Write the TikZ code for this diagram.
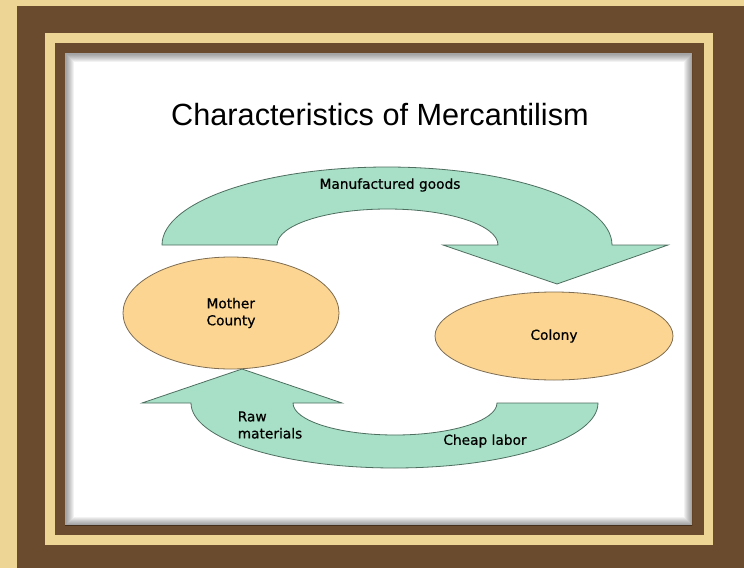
\documentclass[tikz,border=0pt]{standalone}
\usepackage{fontspec}
\setmainfont{Liberation Sans}
\newfontfamily\comicfont[FakeBold=0.6]{DejaVu Sans}
\usetikzlibrary{shapes.geometric}
\definecolor{framebrown}{HTML}{6B4B2E}
\definecolor{framegold}{HTML}{EDD596}
\definecolor{arrowgreen}{HTML}{A7E0C6}
\definecolor{arrowedge}{HTML}{4E6E60}
\definecolor{blobfill}{HTML}{FBD591}
\definecolor{blobedge}{HTML}{7D6C52}
\tikzset{
  country/.style={ellipse, draw=blobedge, line width=0.6pt, fill=blobfill,
    inner sep=0pt, align=left, font=\comicfont\fontsize{10.3}{12.75}\selectfont},
  flow/.style={draw=arrowedge, line width=0.6pt, fill=arrowgreen},
  caption/.style={font=\comicfont\fontsize{10.3}{12.75}\selectfont, align=left, inner sep=0pt},
}
\begin{document}
\begin{tikzpicture}[x=0.75pt,y=-0.75pt]
      \useasboundingbox (0,0) rectangle (744,568);
      \fill[framegold] (0,0) rectangle (744,568);
      \fill[framebrown] (17,6) rectangle (744,568);
      \fill[framegold] (45,33) rectangle (713,545);
      \fill[framebrown] (55,43) rectangle (704,535);
      \fill[white] (65,53) rectangle (692,525);
      \begin{scope}
        \clip (65,53) rectangle (692,525);
        \foreach \w in {2,4,...,16}
          \draw[black, opacity=0.05, line width=\w*0.75pt] (66,54) rectangle (692,525);
      \end{scope}
      \node[anchor=base, font=\fontsize{23}{28}\selectfont] (title) at (380,125)
        {Characteristics of Mercantilism};
      \draw
        (231,313) node[country, minimum width=162pt, minimum height=84pt] (mother) {Mother\\County}
        (554,336) node[country, minimum width=178.5pt, minimum height=66pt] (colony) {Colony};
      \draw[flow] (162,245) arc[start angle=180, end angle=360, x radius=225, y radius=78]
        -- (668,245) -- (557,284) -- (443,245) -- (498,245)
        arc[start angle=0, end angle=-180, x radius=110.5, y radius=36] -- cycle;
      \draw[flow] (598,403) arc[start angle=0, end angle=180, x radius=203.5, y radius=65]
        -- (142,403) -- (242,369) -- (342,403) -- (293,403)
        arc[start angle=180, end angle=0, x radius=102, y radius=32] -- cycle;
      \node[caption] (goods) at (390,185) {Manufactured goods};
      \node[caption] (raw) at (270,425) {Raw\\materials};
      \node[caption] (labor) at (485,441) {Cheap labor};
    \end{tikzpicture}
\end{document}
